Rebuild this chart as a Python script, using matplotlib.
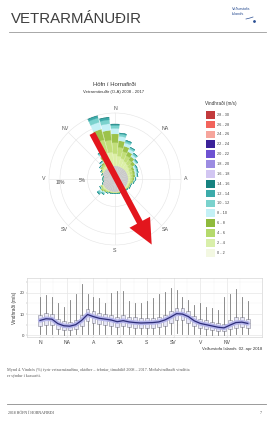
import numpy as np
import matplotlib
matplotlib.use("Agg")
import matplotlib.pyplot as plt
from matplotlib.patches import Rectangle, FancyArrowPatch

plt.rcParams["font.family"] = ["Liberation Sans", "DejaVu Sans"]

# wind rose, 10 degree sectors, frequency (%) per speed class
directions = np.arange(0, 360, 10)
f_0_2 = [2.4, 2.4, 2.4, 2.4, 2.4, 2.4, 2.4, 2.4, 2.4, 2.4, 2.4, 2.4,
         2.4, 2.4, 2.4, 2.4, 2.4, 2.4, 2.4, 2.4, 2.4, 2.4, 2.4, 2.4,
         2.4, 2.4, 2.2, 2.2, 2.2, 2.4, 2.4, 2.4, 2.4, 2.4, 2.4, 2.4]
f_2_4 = [2.2, 1.8, 1.5, 1.2, 1.0, 0.8, 0.6, 0.5, 0.5, 0.4, 0.4, 0.3,
         0.3, 0.2, 0.1, 0.1, 0.1, 0.1, 0.1, 0.1, 0.1, 0.2, 0.2, 0.3,
         0.2, 0.0, 0.0, 0.0, 0.0, 0.1, 0.2, 0.4, 0.5, 0.9, 2.6, 2.5]
f_4_6 = [2.0, 1.6, 1.3, 1.1, 0.9, 0.7, 0.5, 0.5, 0.4, 0.4, 0.3, 0.2,
         0.2, 0.2, 0.1, 0.1, 0.1, 0.1, 0.1, 0.1, 0.1, 0.1, 0.2, 0.3,
         0.2, 0.0, 0.0, 0.0, 0.0, 0.0, 0.1, 0.3, 0.4, 0.8, 2.4, 2.2]
f_6_8 = [1.6, 1.2, 1.0, 0.8, 0.7, 0.6, 0.4, 0.4, 0.4, 0.3, 0.2, 0.1,
         0.1, 0.1, 0.1, 0.1, 0.1, 0.1, 0.1, 0.1, 0.1, 0.1, 0.2, 0.2,
         0.1, 0.0, 0.0, 0.0, 0.0, 0.0, 0.1, 0.2, 0.3, 0.6, 2.0, 1.8]
f_8_10 = [1.0, 0.8, 0.6, 0.5, 0.4, 0.3, 0.3, 0.3, 0.3, 0.2, 0.1, 0.1,
          0.1, 0.0, 0.0, 0.0, 0.0, 0.0, 0.0, 0.0, 0.0, 0.1, 0.2, 0.3,
          0.1, 0.0, 0.0, 0.0, 0.0, 0.0, 0.1, 0.1, 0.2, 0.4, 1.3, 1.2]
f_10_12 = [0.5, 0.4, 0.3, 0.3, 0.3, 0.2, 0.2, 0.2, 0.1, 0.1, 0.1, 0.0,
           0.0, 0.0, 0.0, 0.0, 0.0, 0.0, 0.0, 0.0, 0.0, 0.0, 0.2, 0.3,
           0.1, 0.0, 0.0, 0.0, 0.0, 0.0, 0.0, 0.1, 0.1, 0.3, 0.8, 0.7]
f_12_14 = [0.2, 0.2, 0.2, 0.1, 0.1, 0.1, 0.1, 0.1, 0.1, 0.0, 0.0, 0.0,
           0.0, 0.0, 0.0, 0.0, 0.0, 0.0, 0.0, 0.0, 0.0, 0.0, 0.1, 0.2,
           0.0, 0.0, 0.0, 0.0, 0.0, 0.0, 0.0, 0.0, 0.1, 0.1, 0.4, 0.4]
f_14_16 = [0.1, 0.0, 0.0, 0.0, 0.0, 0.0, 0.0, 0.0, 0.0, 0.0, 0.0, 0.0,
           0.0, 0.0, 0.0, 0.0, 0.0, 0.0, 0.0, 0.0, 0.0, 0.0, 0.0, 0.0,
           0.0, 0.0, 0.0, 0.0, 0.0, 0.0, 0.0, 0.0, 0.0, 0.0, 0.1, 0.1]

speed_labels = ["28 - 30", "26 - 28", "24 - 26", "22 - 24", "20 - 22", "18 - 20",
                "16 - 18", "14 - 16", "12 - 14", "10 - 12", "8 - 10", "6 - 8",
                "4 - 6", "2 - 4", "0 - 2"]
speed_colors = ["#c23a3c", "#f2645c", "#f6a59c", "#3b2299", "#6e52d2", "#9c8ce2",
                "#d2c6f2", "#168280", "#3cabaa", "#7ad2cd", "#c4f1f6", "#8fba3c",
                "#b5da6c", "#d9efaa", "#f3f8e2"]

compass = ["N", "NA", "A", "SA", "S", "SV", "V", "NV"]

# box plot of wind speed by direction (m/s)
box_med = [7.0, 7.8, 7.6, 5.5, 4.5, 4.3, 5.0, 7.0, 9.8, 8.8, 8.0, 7.6,
           7.2, 6.4, 6.9, 6.3, 6.0, 5.8, 5.9, 6.0, 6.3, 7.2, 8.6, 10.2,
           10.0, 8.8, 6.8, 5.6, 5.0, 4.4, 3.8, 3.5, 4.8, 6.0, 6.2, 5.6]
box_q1 = [4.3, 5.0, 4.9, 3.2, 2.5, 2.4, 2.8, 4.3, 6.8, 6.0, 5.3, 5.0,
          4.6, 3.9, 4.3, 3.8, 3.6, 3.4, 3.5, 3.6, 3.8, 4.5, 5.7, 7.2,
          7.0, 6.0, 4.2, 3.3, 2.9, 2.5, 2.1, 1.9, 2.8, 3.6, 3.8, 3.3]
box_q3 = [9.5, 10.4, 10.2, 7.9, 6.6, 6.4, 7.2, 9.6, 12.6, 11.4, 10.6, 10.1,
          9.7, 8.8, 9.4, 8.7, 8.4, 8.1, 8.2, 8.3, 8.7, 9.8, 11.3, 13.0,
          12.8, 11.5, 9.3, 7.9, 7.2, 6.4, 5.7, 5.3, 7.0, 8.4, 8.6, 7.9]
box_lo = [0.6, 0.7, 0.6, 0.4, 0.3, 0.3, 0.4, 0.5, 0.8, 0.7, 0.6, 0.6,
          0.5, 0.4, 0.5, 0.4, 0.4, 0.4, 0.4, 0.4, 0.4, 0.5, 0.7, 0.9,
          0.8, 0.7, 0.5, 0.4, 0.3, 0.3, 0.3, 0.2, 0.3, 0.4, 0.5, 0.4]
box_hi = [18.0, 19.0, 18.0, 15.0, 13.5, 16.7, 19.4, 24.0, 19.4, 18.0, 17.5, 15.0,
          20.0, 21.0, 21.0, 16.0, 15.0, 15.0, 16.0, 17.8, 19.4, 20.3, 22.2, 21.4,
          18.0, 16.7, 14.3, 15.0, 13.5, 13.0, 11.9, 18.0, 19.4, 22.0, 18.0, 16.0]

W, H = 274, 424


def frac(x0, y0, x1, y1):
    """pixel box (top-left origin) to figure fraction rect"""
    return [x0 / W, 1 - y1 / H, (x1 - x0) / W, (y1 - y0) / H]


fig = plt.figure(figsize=(W / 100, H / 100), dpi=100)

# ---- wind rose ----
cx, cy, rad = 115, 179, 66
ax = fig.add_axes(frac(cx - rad, cy - rad, cx + rad, cy + rad), projection="polar")
ax.set_theta_zero_location("N")
ax.set_theta_direction(-1)
theta = np.deg2rad(directions)
classes = [f_0_2, f_2_4, f_4_6, f_6_8, f_8_10, f_10_12, f_12_14, f_14_16]
rose_colors = ["#c9c9c9", "#dcefa6", "#c2df7a", "#9cc24a", "#c4f1f6", "#7ad2cd",
               "#3cabaa", "#168280"]
bottom = np.zeros(len(directions))
for vals, col in zip(classes, rose_colors):
    vals = np.array(vals)
    ax.bar(theta, vals, width=np.deg2rad(9), bottom=bottom, color=col,
           edgecolor=col, linewidth=0.2, zorder=3)
    bottom = bottom + vals
ax.set_ylim(0, 12)
ax.set_yticks([5, 10])
ax.set_yticklabels([])
ax.set_xticks(np.deg2rad(np.arange(0, 360, 45)))
ax.set_xticklabels([])
ax.grid(color="#e4e4e4", linewidth=0.4)
ax.spines["polar"].set_color("#e4e4e4")
ax.spines["polar"].set_linewidth(0.4)
ax.tick_params(length=0)

# ---- box plot ----
bx = fig.add_axes(frac(27, 278, 262, 337))
stats = []
for i in range(len(box_med)):
    stats.append(dict(med=box_med[i], q1=box_q1[i], q3=box_q3[i],
                      whislo=box_lo[i], whishi=box_hi[i], fliers=[]))
pos = np.arange(len(box_med))
bx.bxp(stats, positions=pos, widths=0.65, patch_artist=True, showcaps=False,
       boxprops=dict(facecolor="#e6e6f6", edgecolor="#8c8c9c", linewidth=0.4),
       whiskerprops=dict(color="#7a7a7a", linewidth=0.6),
       medianprops=dict(color="#8c8c9c", linewidth=0.4), manage_ticks=False)
bx.plot(pos, box_med, color="#b4b4ea", linewidth=3.2, zorder=4, solid_capstyle="round")
bx.plot(pos, box_med, color="#2c2c78", linewidth=0.9, zorder=5)
bx.set_xlim(-2.2, 37.4)
bx.set_ylim(-0.8, 27)
bx.set_xticks(np.arange(0, 36, 4.5))
bx.set_xticklabels(compass, fontsize=3.6, color="#444444")
bx.set_xticks(np.arange(2.25, 36, 4.5), minor=True)
bx.set_yticks([0, 10, 20])
bx.set_yticks([5, 15, 25], minor=True)
bx.tick_params(axis="y", labelsize=3.2, labelcolor="#444444")
bx.tick_params(which="both", length=1, width=0.3, color="#999999", pad=1)
bx.set_ylabel("Vindhraði (m/s)", fontsize=3.4, color="#333333", labelpad=2)
bx.grid(which="major", color="#e6e6e6", linewidth=0.5)
bx.grid(which="minor", color="#f2f2f2", linewidth=0.3)
bx.set_axisbelow(True)
for s in bx.spines.values():
    s.set_color("#cccccc")
    s.set_linewidth(0.4)

# ---- page overlay in pixel coords ----
page = fig.add_axes([0, 0, 1, 1], zorder=10)
page.set_xlim(0, W)
page.set_ylim(H, 0)
page.axis("off")

page.text(11, 19, "VETRARMÁNUÐIR", fontsize=10.8, color="#3f3f3f", va="center")
page.plot([9, 266], [32, 32], color="#9a9a9a", linewidth=0.6)
page.text(232, 9, "Veðurstofa", fontsize=2.8, color="#2b4f93", va="center")
page.text(232, 14, "Íslands", fontsize=2.8, color="#2b4f93", va="center")
page.plot([246, 250, 253], [19, 18, 17], color="#2b4f93", linewidth=0.5)
page.plot([254], [21], marker="o", markersize=1, color="#2b4f93")

page.text(114, 85, "Höfn í Hornafirði", fontsize=4.2, color="#333333", ha="center", va="center")
page.text(114, 92, "Vetrarmánuðir (O-A) 2008 - 2017", fontsize=3.1, color="#333333",
          ha="center", va="center")

lab_r = 71
for k, name in enumerate(compass):
    a = np.deg2rad(k * 45)
    page.text(cx + lab_r * np.sin(a), cy - lab_r * np.cos(a), name, fontsize=3.8,
              color="#555555", ha="center", va="center")
page.text(60, 182, "10%", fontsize=3.4, color="#444444", ha="center", va="center")
page.text(82, 181, "5%", fontsize=3.4, color="#444444", ha="center", va="center")

# legend
page.text(205, 103, "Vindhraði (m/s)", fontsize=3.3, color="#333333", va="center")
for i, (lab, col) in enumerate(zip(speed_labels, speed_colors)):
    yc = 114.7 + i * 9.86
    page.add_patch(Rectangle((206, yc - 3.9), 9, 7.8, facecolor=col, edgecolor="none"))
    page.text(217, yc, lab, fontsize=2.8, color="#444444", va="center")

# red arrow
page.add_patch(FancyArrowPatch((91, 131), (153, 247),
                               arrowstyle="simple,head_length=1.3,head_width=1.2,tail_width=0.32",
                               mutation_scale=14, color="#e3161d", linewidth=0))

page.text(262, 349, "Veðurstofa Íslands  02. apr 2018", fontsize=3.1, color="#333333",
          ha="right", va="center")

page.text(7, 370, "Mynd 4. Vindrós (%) fyrir vetrarmánuðina, október – febrúar, tímabilið 2008 – 2017. "
          "Meðalvindhraði vindátta", fontsize=3.0, color="#555555", va="center",
          family="Liberation Serif")
page.text(7, 376, "er sýndur í kassariti.", fontsize=3.0, color="#555555", va="center",
          family="Liberation Serif")

page.plot([7, 266], [404, 404], color="#8a8a8a", linewidth=0.6)
page.text(8, 413, "2018 HÖFN Í HORNAFIRÐI", fontsize=2.8, color="#444444", va="center",
          family="Liberation Serif")
page.text(262, 413, "7", fontsize=2.8, color="#444444", va="center", ha="right",
          family="Liberation Serif")

fig.savefig("out.png", dpi=100)
